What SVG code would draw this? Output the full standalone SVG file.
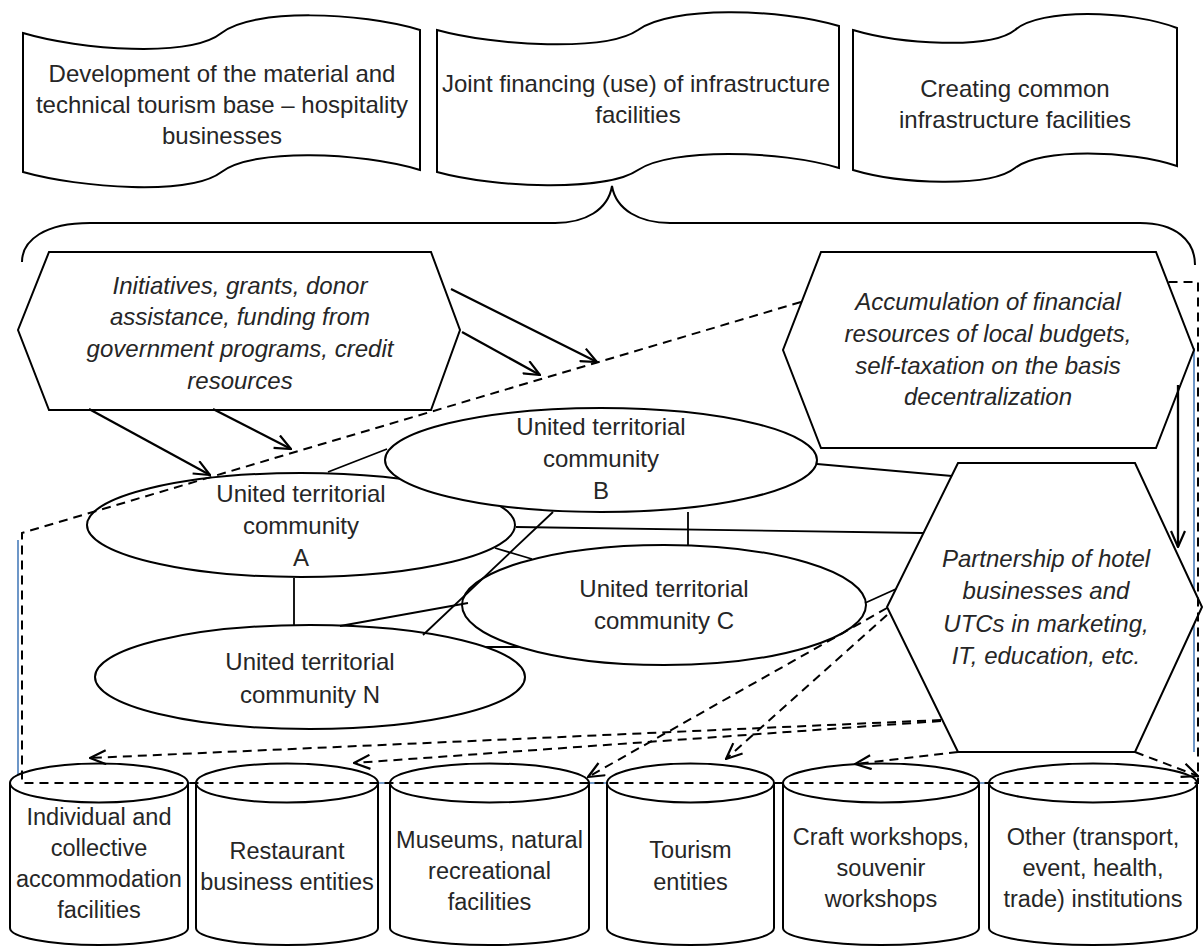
<svg xmlns="http://www.w3.org/2000/svg" width="1203" height="947" viewBox="0 0 1203 947">
<defs>
<style>
.shape{fill:#fff;stroke:#000;stroke-width:2}
.t{font-family:"Liberation Sans",Arial,sans-serif;font-size:24px;fill:#262626;text-anchor:middle}
.i{font-style:italic}
.c{font-size:23.5px}
.ln{stroke:#000;stroke-width:1.8;fill:none}
.ar{stroke:#000;stroke-width:2.3;fill:none;marker-end:url(#ah)}
.da{stroke:#000;stroke-width:2;stroke-dasharray:9 6;fill:none}
.dar{stroke:#000;stroke-width:2;stroke-dasharray:9 6;fill:none;marker-end:url(#ah)}
.blue{stroke:#4a7ebb;stroke-width:1.6;fill:none}
</style>
<marker id="ah" viewBox="0 0 18 16" refX="17" refY="8" markerWidth="18" markerHeight="16" markerUnits="userSpaceOnUse" orient="auto">
<path d="M1,1 L17,8 L1,15" fill="none" stroke="#000" stroke-width="2.2" stroke-dasharray="none"/>
</marker>
</defs>
<rect width="1203" height="947" fill="#fff"/>

<g id="frame">
<path class="blue" d="M18,540 V783 H1192"/>
<path class="blue" d="M1194,348 V752"/>
</g>

<g id="doc1">
<path class="shape" d="M23,33 C80,50 190,58 221.5,33 C253,8 360,12 420,30 L420,170 C360,152 253,148 221.5,172 C190,196 80,188 23,172 Z"/>
<text class="t" x="222" y="82">Development of the material and</text>
<text class="t" x="222" y="113">technical tourism base – hospitality</text>
<text class="t" x="222" y="144">businesses</text>
</g>
<g id="doc2">
<path class="shape" d="M437,30 C495,46 606,52 638,30 C670,6 780,8 839,26 L839,168 C780,150 670,148 638,170 C606,192 495,188 437,172 Z"/>
<text class="t" x="636" y="92">Joint financing (use) of infrastructure</text>
<text class="t" x="638" y="123">facilities</text>
</g>
<g id="doc3">
<path class="shape" d="M853,30 C900,44 990,50 1015,30 C1040,8 1130,10 1177,28 L1177,166 C1130,150 1040,148 1015,168 C990,188 900,184 853,170 Z"/>
<text class="t" x="1015" y="97">Creating common</text>
<text class="t" x="1015" y="128">infrastructure facilities</text>
</g>

<g id="brace">
<path class="ln" style="stroke-width:2" d="M22,262 C22,240 45,223 90,223 L555,223 C585,223 608,210 612,186 C616,210 640,223 670,223 L1140,223 C1175,223 1195,240 1195,265"/>
</g>

<g id="hex-initiatives">
<polygon class="shape" points="49,252 431,252 460,330 431,410 49,410 18,330"/>
<text class="t i" x="240" y="294">Initiatives, grants, donor</text>
<text class="t i" x="240" y="325">assistance, funding from</text>
<text class="t i" x="240" y="357">government programs, credit</text>
<text class="t i" x="240" y="389">resources</text>
</g>
<g id="hex-accumulation">
<polygon class="shape" points="821,252 1156,252 1194,350 1156,448 821,448 783,350"/>
<text class="t i" x="988" y="310">Accumulation of financial</text>
<text class="t i" x="988" y="342">resources of local budgets,</text>
<text class="t i" x="988" y="374">self-taxation on the basis</text>
<text class="t i" x="988" y="405">decentralization</text>
</g>
<g id="hex-partnership">
<polygon class="shape" points="958,463 1135,463 1202,607 1135,752 958,752 887,607"/>
<text class="t i" x="1046" y="567">Partnership of hotel</text>
<text class="t i" x="1046" y="599">businesses and</text>
<text class="t i" x="1046" y="632">UTCs in marketing,</text>
<text class="t i" x="1046" y="664">IT, education, etc.</text>
</g>

<g id="utc-a">
<ellipse class="shape" cx="301" cy="525" rx="214" ry="52"/>
<text class="t" x="301" y="502">United territorial</text>
<text class="t" x="301" y="534">community</text>
<text class="t" x="301" y="566">A</text>
</g>
<g id="utc-b">
<ellipse class="shape" cx="601" cy="460" rx="216" ry="52"/>
<text class="t" x="601" y="435">United territorial</text>
<text class="t" x="601" y="467">community</text>
<text class="t" x="601" y="499">B</text>
</g>
<g id="utc-c">
<ellipse class="shape" cx="664" cy="605" rx="202" ry="60"/>
<text class="t" x="664" y="597">United territorial</text>
<text class="t" x="664" y="629">community C</text>
</g>
<g id="utc-n">
<ellipse class="shape" cx="310" cy="677" rx="215" ry="52"/>
<text class="t" x="310" y="670">United territorial</text>
<text class="t" x="310" y="703">community N</text>
</g>

<g id="cyl1">
<path class="shape" d="M10,783 L10,928 A89,17 0 0 0 188,928 L188,783"/>
<ellipse class="shape" cx="99" cy="783" rx="89" ry="19.5"/>
<text class="t c" x="99" y="825">Individual and</text>
<text class="t c" x="99" y="856">collective</text>
<text class="t c" x="99" y="887">accommodation</text>
<text class="t c" x="99" y="918">facilities</text>
</g>
<g id="cyl2">
<path class="shape" d="M196,783 L196,928 A91,17 0 0 0 378,928 L378,783"/>
<ellipse class="shape" cx="287" cy="783" rx="91" ry="19.5"/>
<text class="t c" x="287" y="859">Restaurant</text>
<text class="t c" x="287" y="890">business entities</text>
</g>
<g id="cyl3">
<path class="shape" d="M390,783 L390,928 A99.5,17 0 0 0 589,928 L589,783"/>
<ellipse class="shape" cx="489.5" cy="783" rx="99.5" ry="19.5"/>
<text class="t c" x="489.5" y="848">Museums, natural</text>
<text class="t c" x="489.5" y="879">recreational</text>
<text class="t c" x="489.5" y="910">facilities</text>
</g>
<g id="cyl4">
<path class="shape" d="M607,783 L607,928 A83.5,17 0 0 0 774,928 L774,783"/>
<ellipse class="shape" cx="690.5" cy="783" rx="83.5" ry="19.5"/>
<text class="t c" x="690.5" y="858">Tourism</text>
<text class="t c" x="690.5" y="890">entities</text>
</g>
<g id="cyl5">
<path class="shape" d="M783,783 L783,928 A98,17 0 0 0 979,928 L979,783"/>
<ellipse class="shape" cx="881" cy="783" rx="98" ry="19.5"/>
<text class="t c" x="881" y="845">Craft workshops,</text>
<text class="t c" x="881" y="876">souvenir</text>
<text class="t c" x="881" y="907">workshops</text>
</g>
<g id="cyl6">
<path class="shape" d="M989,783 L989,928 A104,17 0 0 0 1197,928 L1197,783"/>
<ellipse class="shape" cx="1093" cy="783" rx="104" ry="19.5"/>
<text class="t c" x="1093" y="845">Other (transport,</text>
<text class="t c" x="1093" y="876">event, health,</text>
<text class="t c" x="1093" y="907">trade) institutions</text>
</g>

<g id="connectors">
<line class="ln" x1="328" y1="472" x2="387" y2="449"/>
<line class="ln" x1="516" y1="527" x2="923" y2="533"/>
<line class="ln" x1="688" y1="512" x2="688" y2="545"/>
<line class="ln" x1="817" y1="464" x2="952" y2="476"/>
<line class="ln" x1="495" y1="548" x2="532" y2="559"/>
<line class="ln" x1="553" y1="512" x2="423" y2="635"/>
<line class="ln" x1="294" y1="578" x2="294" y2="625"/>
<line class="ln" x1="340" y1="626" x2="468" y2="603"/>
<line class="ln" x1="486" y1="647" x2="520" y2="647"/>
<line class="ln" x1="865" y1="603" x2="896" y2="589"/>

<line class="ar" x1="451" y1="289" x2="597" y2="362"/>
<line class="ar" x1="462" y1="332" x2="540" y2="375"/>
<line class="ar" x1="89" y1="409" x2="210" y2="475"/>
<line class="ar" x1="213" y1="409" x2="291" y2="449"/>
<line class="ar" x1="1178" y1="385" x2="1178" y2="547"/>

<path class="da" d="M801,302 L22,533 L22,783 L1198,783 L1198,282 L1167,282"/>

<line class="dar" x1="887" y1="608" x2="588" y2="777"/>
<line class="dar" x1="887" y1="615" x2="726" y2="759"/>
<line class="dar" x1="941" y1="720" x2="90" y2="758"/>
<line class="dar" x1="941" y1="721" x2="354" y2="763"/>
<line class="dar" x1="958" y1="752" x2="855" y2="764"/>
<line class="dar" x1="1135" y1="752" x2="1198" y2="776"/>
</g>
</svg>
